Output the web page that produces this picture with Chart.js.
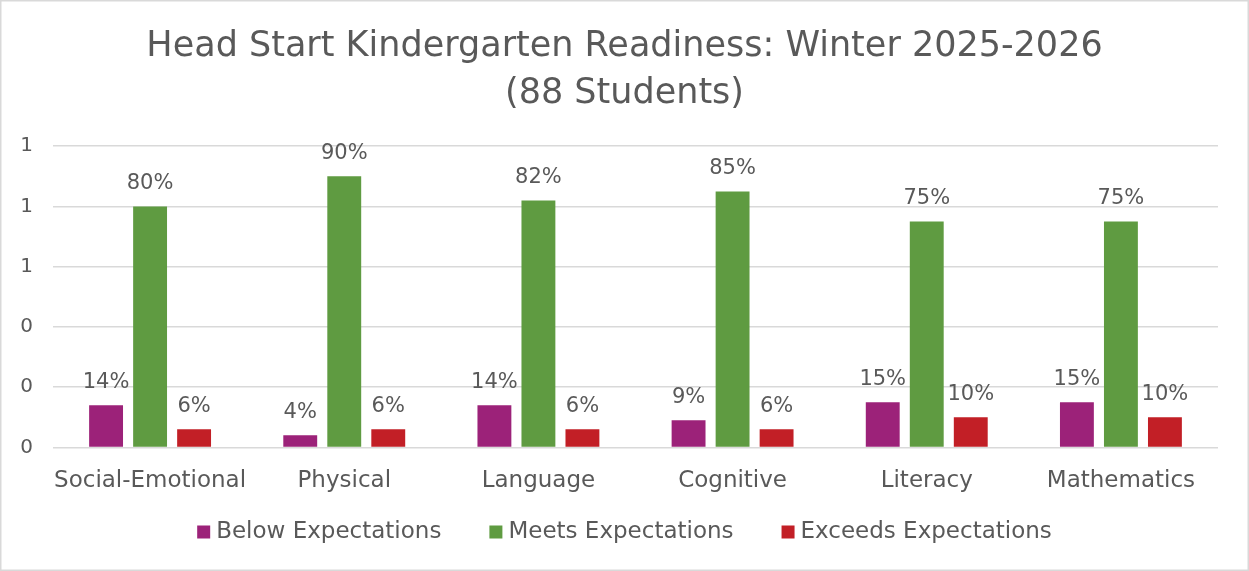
<!DOCTYPE html>
<html>
<head>
<meta charset="utf-8">
<script src="https://cdn.jsdelivr.net/npm/chart.js@4"></script>
<style>
html,body{margin:0;padding:0;background:#fff;}
canvas{display:block;}
</style>
</head>
<body>
<canvas id="c" width="1249" height="571"></canvas>
<script>
const categories = ["Social-Emotional","Physical","Language","Cognitive","Literacy","Mathematics"];
const belowExpectations = [0.14,0.04,0.14,0.09,0.15,0.15];
const meetsExpectations = [0.80,0.90,0.82,0.85,0.75,0.75];
const exceedsExpectations = [0.06,0.06,0.06,0.06,0.10,0.10];
const seriesNames = ["Below Expectations","Meets Expectations","Exceeds Expectations"];
const titleLines = ["Head Start Kindergarten Readiness: Winter 2025-2026","(88 Students)"];

const FONT = "'DejaVu Sans', sans-serif";
const TEXT = "#595959";
const colors = ["#9C2279","#5F9B41","#C21F26"];

const bgPlugin = {
  id:'bg',
  beforeDraw(chart){
    const c = chart.ctx;
    c.save();
    c.fillStyle = '#fff';
    c.fillRect(0,0,chart.width,chart.height);
    c.strokeStyle = '#D9D9D9';
    c.lineWidth = 1.5;
    c.strokeRect(0.75,0.75,chart.width-1.5,chart.height-1.5);
    c.restore();
  }
};

const labelPlugin = {
  id:'valLabels',
  afterDatasetsDraw(chart){
    const c = chart.ctx;
    c.save();
    c.font = "21px " + FONT;
    c.fillStyle = TEXT;
    c.textAlign = 'center';
    c.textBaseline = 'bottom';
    chart.data.datasets.forEach((ds,i)=>{
      const meta = chart.getDatasetMeta(i);
      meta.data.forEach((bar,j)=>{
        const v = ds.data[j];
        c.fillText(Math.round(v*100)+'%', bar.x, bar.y - 12);
      });
    });
    c.restore();
  }
};

const legendPlugin = {
  id:'customLegend',
  afterDraw(chart){
    const c = chart.ctx;
    c.save();
    c.font = "23px " + FONT;
    c.textBaseline = 'middle';
    const box = 13, gap = 6, spacing = 48;
    const items = chart.data.datasets.map(ds=>({text:ds.label,color:ds.backgroundColor}));
    let total = 0;
    items.forEach((it,i)=>{ it.w = box+gap+c.measureText(it.text).width; total += it.w + (i>0?spacing:0); });
    let x = (chart.width - total)/2;
    const y = 532;
    items.forEach(it=>{
      c.fillStyle = it.color;
      c.fillRect(x, y-box/2, box, box);
      c.fillStyle = TEXT;
      c.textAlign = 'left';
      c.fillText(it.text, x+box+gap, y);
      x += it.w + spacing;
    });
    c.restore();
  }
};

new Chart(document.getElementById('c'), {
  type:'bar',
  data:{
    labels: categories,
    datasets:[
      {label:seriesNames[0], data:belowExpectations, backgroundColor:colors[0]},
      {label:seriesNames[1], data:meetsExpectations, backgroundColor:colors[1]},
      {label:seriesNames[2], data:exceedsExpectations, backgroundColor:colors[2]}
    ]
  },
  options:{
    responsive:false,
    animation:false,
    devicePixelRatio:1,
    layout:{padding:{left:0,right:0,top:0,bottom:56}},
    datasets:{bar:{categoryPercentage:0.68,barPercentage:0.77}},
    plugins:{
      legend:{display:false},
      tooltip:{enabled:false},
      title:{
        display:true,
        text:titleLines,
        color:TEXT,
        font:{family:FONT,size:35,weight:'normal',lineHeight:1.36},
        padding:{top:23,bottom:28}
      }
    },
    scales:{
      x:{
        grid:{display:false,drawTicks:false},
        border:{display:false},
        ticks:{color:TEXT,font:{family:FONT,size:23},padding:20,maxRotation:0,autoSkip:false}
      },
      y:{
        min:0,max:1,
        grid:{color:'#D9D9D9',lineWidth:1.5,drawTicks:false},
        border:{display:false},
        afterFit:s=>{s.width = 53;},
        ticks:{stepSize:0.2,color:TEXT,font:{family:FONT,size:20},padding:20,
          callback:v=>String(Math.round(v))}
      },
      yRight:{
        position:'right',
        display:true,
        min:0,max:1,
        grid:{display:false,drawTicks:false},
        border:{display:false},
        ticks:{display:false},
        afterFit:s=>{s.width = 31;}
      }
    }
  },
  plugins:[bgPlugin,labelPlugin,legendPlugin]
});
</script>
</body>
</html>
